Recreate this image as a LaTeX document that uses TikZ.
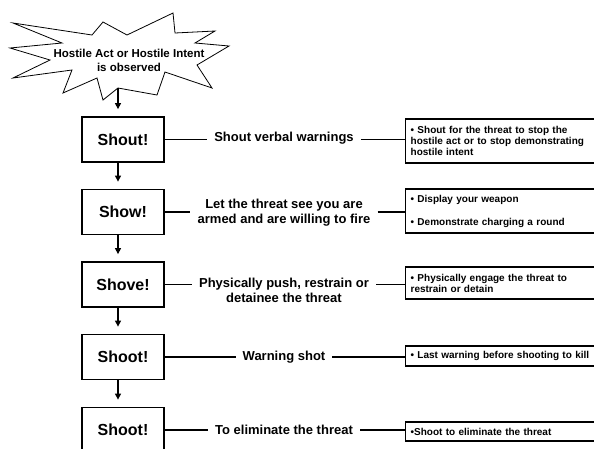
\documentclass[tikz,border=0pt]{standalone}
\usepackage{fontspec}
\setmainfont{Liberation Sans}
\usetikzlibrary{arrows.meta}
\begin{document}
\begin{tikzpicture}[x=1pt,y=-1pt,
  lbox/.style={draw, line width=1.8pt, minimum width=82pt, minimum height=45pt, inner sep=0pt, font=\bfseries\fontsize{16}{18}\selectfont},
  rbox/.style={draw, line width=1.3pt, anchor=west, minimum width=191pt, text width=181pt, inner xsep=5pt, inner ysep=0pt, align=left, font=\bfseries\fontsize{10}{11}\selectfont},
  mid/.style={font=\bfseries\fontsize{13}{15}\selectfont, align=center, inner xsep=7pt, inner ysep=0pt},
  startext/.style={font=\bfseries\fontsize{11.5}{14}\selectfont, align=center, inner sep=0pt},
  link/.style={line width=1.8pt},
  arr/.style={line width=1.2pt, -{Triangle[width=6pt,length=6pt]}, shorten >=7pt}
]
\useasboundingbox (0,0) rectangle (594,448);
\clip (0,0) rectangle (594,448);
\fill[white] (0,0) rectangle (594,448);

% star
\draw[line width=0.8pt, fill=white] (13,23) -- (62,43) -- (10,48) -- (50,60) -- (13,78) -- (72,70) -- (63,93) -- (97,78) -- (103,100) -- (118,88) -- (157,95) -- (165,72) -- (212,88) -- (197,65) -- (229,46) -- (195,43) -- (215,31) -- (175,33) -- (173,13) -- (127,35) -- (103,22) -- (92,35) -- cycle;
\node[startext] (obs) at (129,60) {Hostile Act or Hostile Intent\\is observed};
\coordinate (sb) at (118,88);

% left boxes
\node[lbox] (shout) at (123,139.5) {Shout!};
\node[lbox] (show) at (123,212) {Show!};
\node[lbox] (shove) at (123,284.5) {Shove!};
\node[lbox] (shoot1) at (123,357) {Shoot!};
\node[lbox] (shoot2) at (123,430) {Shoot!};

% middle texts
\node[mid] (m1) at (284,138) {Shout verbal warnings};
\node[mid] (m2) at (284,213) {Let the threat see you are\\armed and are willing to fire};
\node[mid] (m3) at (284,290) {Physically push, restrain or\\detainee the threat};
\node[mid] (m4) at (284,357) {Warning shot};
\node[mid] (m5) at (284,430) {To eliminate the threat};

% right boxes
\node[rbox, minimum height=44pt] (r1) at (405,141) {• Shout for the threat to stop the\\hostile act or to stop demonstrating\\hostile intent};
\node[rbox, minimum height=44pt] (r2) at (405,211) {• Display your weapon\\[12pt]• Demonstrate charging a round};
\node[rbox, minimum height=32pt] (r3) at (405,283) {• Physically engage the threat to\\restrain or detain};
\node[rbox, minimum height=20pt] (r4) at (405,356) {• Last warning before shooting to kill};
\node[rbox, minimum height=19pt] (r5) at (405,431.5) {•Shoot to eliminate the threat};

% connectors
\foreach \l/\m/\r in {shout/m1/r1, show/m2/r2, shove/m3/r3, shoot1/m4/r4, shoot2/m5/r5}{
  \draw[link] (\l.east) -- (\l.east -| \m.west);
  \draw[link] (\l.east -| \m.east) -- (\l.east -| \r.west);
}

% arrows
\draw[arr] (sb) -- (sb |- shout.north);
\draw[arr] (shout.south -| sb) -- (show.north -| sb);
\draw[arr] (show.south -| sb) -- (shove.north -| sb);
\draw[arr] (shove.south -| sb) -- (shoot1.north -| sb);
\draw[arr] (shoot1.south -| sb) -- (shoot2.north -| sb);
\end{tikzpicture}
\end{document}
